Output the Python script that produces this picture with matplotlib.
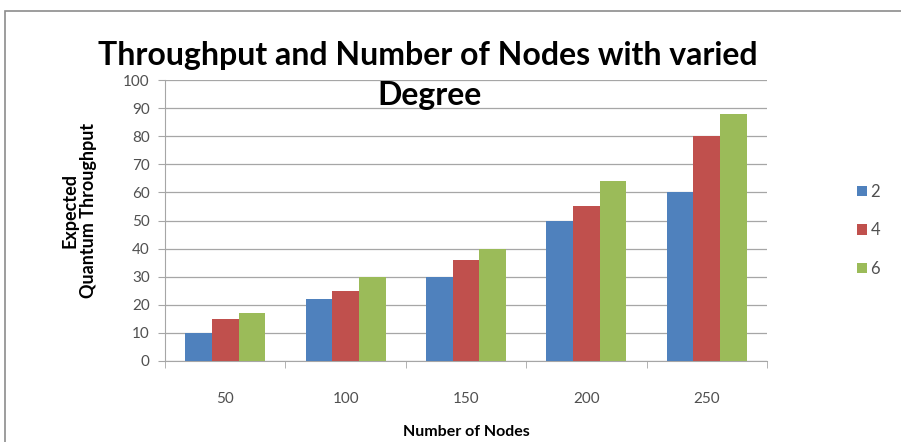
import matplotlib.pyplot as plt
from matplotlib.patches import Rectangle
import numpy as np

# data
NODES = ["50", "100", "150", "200", "250"]
DEGREE_2 = [10, 22, 30, 50, 60]
DEGREE_4 = [15, 25, 36, 55, 80]
DEGREE_6 = [17, 30, 40, 64, 88]
SERIES_LABELS = ["2", "4", "6"]

COLORS = ["#4F81BD", "#C0504D", "#9BBB59"]
FONT = ["Lato", "DejaVu Sans"]

plt.rcParams['font.family'] = FONT

fig = plt.figure(figsize=(9.01, 4.42), dpi=100)
fig.patches.append(Rectangle((5 / 901, -0.01), 1.0, 1 - 11 / 442 + 0.01,
                             transform=fig.transFigure, fill=False,
                             edgecolor="#8c8c8c", linewidth=1.2))

ax = fig.add_axes([165 / 901, 1 - 361 / 442, 602 / 901, 281 / 442])

x = np.arange(len(NODES))
w = 0.222
for i, (vals, lab) in enumerate(zip([DEGREE_2, DEGREE_4, DEGREE_6], SERIES_LABELS)):
    ax.bar(x + (i - 1) * w, vals, width=w, color=COLORS[i], label=lab, zorder=3)

ax.set_xlim(-0.5, len(NODES) - 0.5)
ax.set_ylim(0, 100)
ax.set_yticks(range(0, 101, 10))
ax.yaxis.grid(True, color="#a6a6a6", linewidth=0.9, zorder=0)

ax.set_xticks(x)
ax.set_xticklabels(NODES)
ax.set_xticks(np.arange(-0.5, len(NODES), 1.0), minor=True)
ax.tick_params(axis="x", which="major", length=0, pad=22, labelsize=11, labelcolor="#505050")
ax.tick_params(axis="x", which="minor", length=5, color="#a6a6a6", direction="out")
ax.tick_params(axis="y", length=5, color="#a6a6a6", labelsize=11, labelcolor="#505050", pad=6)

for s in ["top", "right"]:
    ax.spines[s].set_visible(False)
for s in ["left", "bottom"]:
    ax.spines[s].set_color("#a6a6a6")

fig.text(428 / 901, 1 - 55 / 442, "Throughput and Number of Nodes with varied",
         ha="center", va="center", fontsize=23, fontweight="bold")
fig.text(429 / 901, 1 - 96 / 442, "Degree",
         ha="center", va="center", fontsize=23, fontweight="bold")

fig.text(79 / 901, 1 - 210 / 442, "Expected\nQuantum Throughput", rotation=90,
         ha="center", va="center", fontsize=13, fontweight="bold", linespacing=1.1)
fig.text(466 / 901, 1 - 432 / 442, "Number of Nodes",
         ha="center", va="center", fontsize=11.5, fontweight="bold")

leg = ax.legend(loc="center left", bbox_to_anchor=(1.125, 0.465), frameon=False,
                handlelength=0.6, handleheight=0.6, handletextpad=0.2,
                labelspacing=1.35, fontsize=12)
for t in leg.get_texts():
    t.set_color("#505050")

fig.savefig("out.png", dpi=100)
